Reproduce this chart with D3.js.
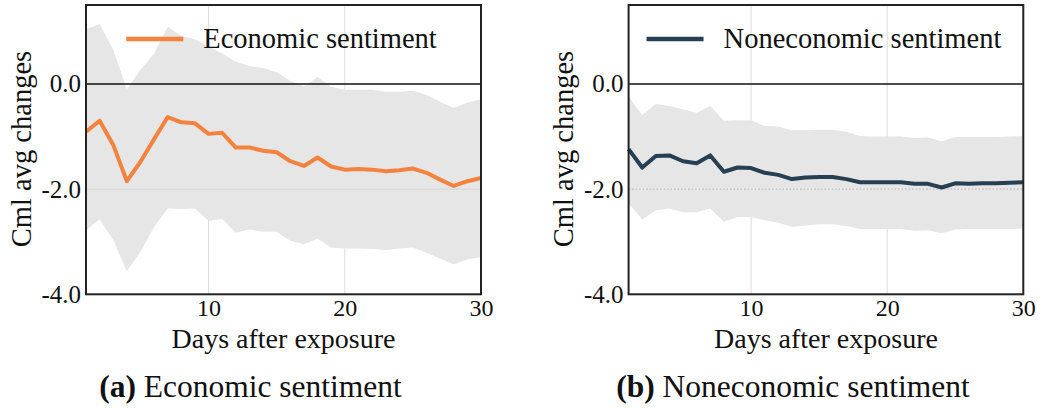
<!DOCTYPE html>
<html>
<head>
<meta charset="utf-8">
<script src="https://cdn.jsdelivr.net/npm/d3@7"></script>
<style>
  body { margin: 0; background: #fff; }
  svg text { font-family: "Palatino Linotype", Palatino, "Book Antiqua", "Liberation Serif", serif; fill: #111; }
</style>
</head>
<body>
<div id="chart"></div>
<script>
const days = d3.range(1, 31);

const econMean = [-0.91, -0.70, -1.16, -1.85, -1.48, -1.05, -0.63, -0.73, -0.75, -0.95,
  -0.93, -1.21, -1.21, -1.27, -1.30, -1.47, -1.56, -1.40, -1.57, -1.63,
  -1.62, -1.63, -1.66, -1.64, -1.61, -1.69, -1.82, -1.94, -1.85, -1.79];
const econUpper = [1.04, 1.14, 0.65, -0.10, 0.27, 0.58, 1.09, 0.91, 0.85, 0.71,
  0.58, 0.42, 0.34, 0.30, 0.22, 0.06, -0.05, 0.13, -0.06, -0.11,
  -0.11, -0.11, -0.15, -0.15, -0.13, -0.21, -0.34, -0.46, -0.36, -0.29];
const econLower = [-2.78, -2.58, -2.97, -3.56, -3.19, -2.72, -2.37, -2.38, -2.37, -2.60,
  -2.57, -2.83, -2.77, -2.81, -2.81, -2.98, -3.05, -2.94, -3.11, -3.13,
  -3.13, -3.14, -3.16, -3.13, -3.11, -3.21, -3.32, -3.43, -3.34, -3.29];

const nonMean = [-1.24, -1.59, -1.37, -1.36, -1.47, -1.51, -1.36, -1.67, -1.59, -1.60,
  -1.69, -1.73, -1.81, -1.78, -1.77, -1.77, -1.81, -1.87, -1.87, -1.87,
  -1.87, -1.90, -1.90, -1.97, -1.89, -1.90, -1.89, -1.89, -1.88, -1.87];
const nonUpper = [-0.24, -0.59, -0.38, -0.42, -0.48, -0.55, -0.42, -0.70, -0.69, -0.69,
  -0.80, -0.81, -0.88, -0.88, -0.87, -0.87, -0.91, -0.99, -1.00, -1.00,
  -1.00, -1.03, -1.02, -1.09, -1.01, -1.01, -1.01, -1.01, -1.00, -0.99];
const nonLower = [-2.27, -2.58, -2.40, -2.37, -2.44, -2.44, -2.37, -2.62, -2.53, -2.53,
  -2.59, -2.64, -2.72, -2.69, -2.67, -2.67, -2.70, -2.76, -2.76, -2.76,
  -2.76, -2.79, -2.78, -2.84, -2.77, -2.76, -2.76, -2.76, -2.76, -2.75];

const xTicks = [10, 20, 30];
const yTicks = [0, -2, -4];

const width = 1040, height = 408;
const svg = d3.select('#chart').append('svg')
  .attr('width', width)
  .attr('height', height);

const panels = [
  { left: 86, right: 481, mean: econMean, upper: econUpper, lower: econLower,
    color: '#F4823F', label: 'Economic sentiment', tag: '(a)', gridDash: null },
  { left: 628.6, right: 1023.3, mean: nonMean, upper: nonUpper, lower: nonLower,
    color: '#263F52', label: 'Noneconomic sentiment', tag: '(b)', gridDash: '1.5,2' }
];

const plotTop = 5, plotBottom = 294.3;

panels.forEach(p => {
  const x = d3.scaleLinear().domain([1, 30]).range([p.left, p.right]);
  const y = d3.scaleLinear().domain([-4, 1.5]).range([plotBottom, plotTop]);
  const g = svg.append('g');
  const mid = (p.left + p.right) / 2;

  // vertical grid
  g.selectAll('.vgrid')
    .data([10, 20])
    .enter().append('line')
    .attr('x1', d => x(d)).attr('x2', d => x(d))
    .attr('y1', plotTop).attr('y2', plotBottom)
    .attr('stroke', '#d4d4d4').attr('stroke-width', 0.8);

  // band
  const area = d3.area()
    .x((d, i) => x(days[i]))
    .y0((d, i) => y(p.lower[i]))
    .y1((d, i) => y(p.upper[i]));
  g.append('path')
    .datum(p.mean)
    .attr('d', area)
    .attr('fill', '#e6e6e6');

  // horizontal grid at -2
  g.append('line')
    .attr('x1', p.left).attr('x2', p.right)
    .attr('y1', y(-2)).attr('y2', y(-2))
    .attr('stroke', p.gridDash ? '#aaa' : '#cfcfcf')
    .attr('stroke-width', 0.8)
    .attr('stroke-dasharray', p.gridDash);

  // zero line
  g.append('line')
    .attr('x1', p.left).attr('x2', p.right)
    .attr('y1', y(0)).attr('y2', y(0))
    .attr('stroke', '#111').attr('stroke-width', 1.5);

  // mean line
  const line = d3.line()
    .x((d, i) => x(days[i]))
    .y(d => y(d));
  g.append('path')
    .datum(p.mean)
    .attr('d', line)
    .attr('fill', 'none')
    .attr('stroke', p.color)
    .attr('stroke-width', 4)
    .attr('stroke-linejoin', 'round');

  // frame
  g.append('rect')
    .attr('x', p.left).attr('y', plotTop)
    .attr('width', p.right - p.left).attr('height', plotBottom - plotTop)
    .attr('fill', 'none')
    .attr('stroke', '#222').attr('stroke-width', 2);

  // axes (labels only)
  const xAxis = d3.axisBottom(x).tickValues(xTicks).tickSize(0).tickPadding(5).tickFormat(d3.format('d'));
  g.append('g')
    .attr('transform', `translate(0, ${plotBottom})`)
    .call(xAxis)
    .call(a => a.select('.domain').remove())
    .selectAll('text')
    .style('font-size', '24px')
    .style('font-family', null);

  const yAxis = d3.axisLeft(y).tickValues(yTicks).tickSize(0).tickPadding(5).tickFormat(d3.format('.1f'));
  g.append('g')
    .attr('transform', `translate(${p.left}, 0)`)
    .call(yAxis)
    .call(a => a.select('.domain').remove())
    .selectAll('text')
    .style('font-size', '25px')
    .style('font-family', null)
    .text(d => d3.format('.1f')(d).replace('−', '-'));

  // axis titles
  g.append('text')
    .attr('transform', `translate(${p.left - 65}, 149) rotate(-90)`)
    .attr('text-anchor', 'middle')
    .attr('dominant-baseline', 'central')
    .style('font-size', '28.5px')
    .text('Cml avg changes');

  g.append('text')
    .attr('x', mid)
    .attr('y', 347.5)
    .attr('text-anchor', 'middle')
    .style('font-size', '28px')
    .text('Days after exposure');

  // legend, upper center
  const leg = g.append('g');
  leg.append('line')
    .attr('x1', 0).attr('x2', 57)
    .attr('y1', 39).attr('y2', 39)
    .attr('stroke', p.color).attr('stroke-width', 4.5);
  const legText = leg.append('text')
    .attr('x', 77)
    .attr('y', 48)
    .style('font-size', '28.5px')
    .text(p.label);
  const legW = 77 + legText.node().getComputedTextLength();
  leg.attr('transform', `translate(${mid - legW / 2 - 2}, 0)`);

  // caption
  const cap = svg.append('text')
    .attr('x', mid - 33)
    .attr('y', 397)
    .attr('text-anchor', 'middle')
    .style('font-size', '31.5px');
  cap.append('tspan').style('font-weight', 'bold').text(p.tag);
  cap.append('tspan').text(' ' + p.label);
});
</script>
</body>
</html>
